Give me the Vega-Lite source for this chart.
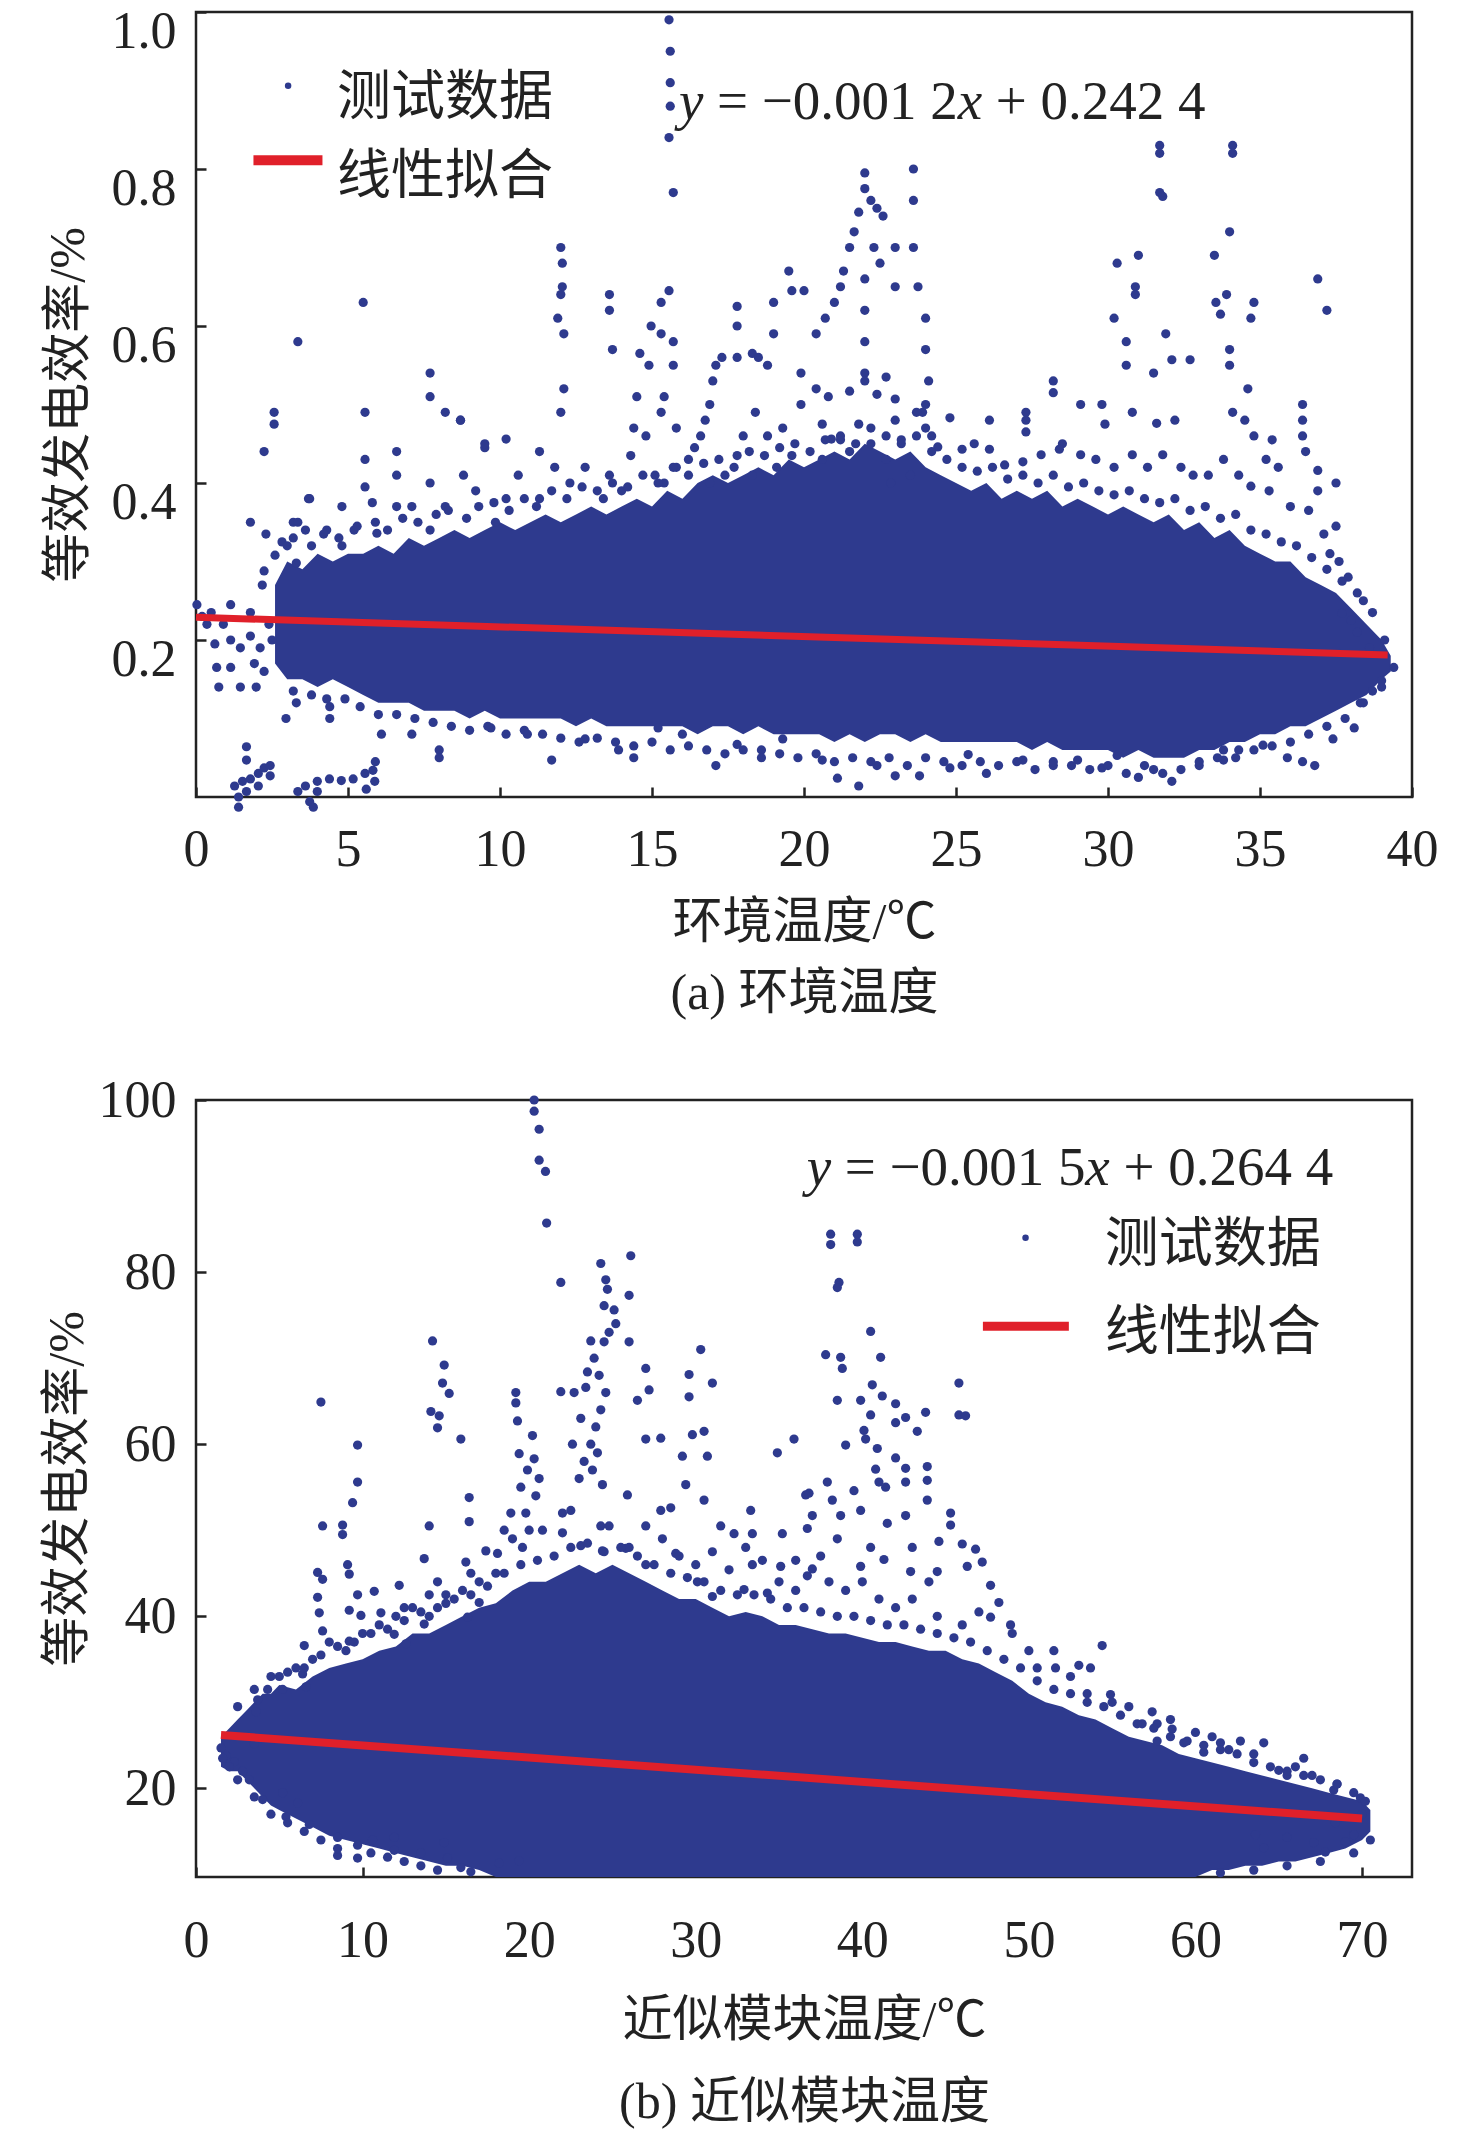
{
  "$schema": "https://vega.github.io/schema/vega-lite/v6.json",
  "background": "white",
  "padding": {"left": 40, "top": 3, "right": 10, "bottom": 0},
  "spacing": 52,
  "config": {
    "view": {"stroke": "#222", "strokeWidth": 2.5},
    "axis": {
      "grid": false, "domain": false,
      "tickSize": -10, "tickWidth": 2.5, "tickColor": "#222",
      "labelFont": "Liberation Serif", "labelFontSize": 52, "labelColor": "#222",
      "labelFlush": false, "labelOverlap": false,
      "titleFont": "Liberation Serif, Noto Sans CJK SC", "titleFontSize": 50,
      "titleFontWeight": "normal", "titleColor": "#222"
    },
    "text": {"font": "Liberation Serif, Noto Sans CJK SC", "fontSize": 55, "color": "#222", "baseline": "middle", "align": "left"}
  },
  "vconcat": [
    {
      "width": 1216,
      "height": 785,
      "layer": [
        {
          "data": {"values": [
            {"x":2.6,"y":0.17,"y2":0.27},{"x":3.0,"y":0.15,"y2":0.3},{"x":3.5,"y":0.15,"y2":0.29},{"x":4.0,"y":0.14,"y2":0.31},{"x":4.5,"y":0.15,"y2":0.3},{"x":5.0,"y":0.14,"y2":0.31},{"x":5.5,"y":0.13,"y2":0.31},{"x":6.0,"y":0.12,"y2":0.32},{"x":6.5,"y":0.12,"y2":0.31},{"x":7.0,"y":0.12,"y2":0.33},{"x":7.5,"y":0.11,"y2":0.32},{"x":8.0,"y":0.11,"y2":0.33},{"x":8.5,"y":0.11,"y2":0.34},{"x":9.0,"y":0.1,"y2":0.33},{"x":9.5,"y":0.11,"y2":0.34},{"x":10.0,"y":0.1,"y2":0.35},{"x":10.5,"y":0.1,"y2":0.34},{"x":11.0,"y":0.1,"y2":0.35},{"x":11.5,"y":0.1,"y2":0.36},{"x":12.0,"y":0.1,"y2":0.35},{"x":12.5,"y":0.09,"y2":0.36},{"x":13.0,"y":0.1,"y2":0.37},{"x":13.5,"y":0.09,"y2":0.36},{"x":14.0,"y":0.09,"y2":0.37},{"x":14.5,"y":0.09,"y2":0.38},{"x":15.0,"y":0.09,"y2":0.37},{"x":15.5,"y":0.09,"y2":0.39},{"x":16.0,"y":0.09,"y2":0.38},{"x":16.5,"y":0.08,"y2":0.4},{"x":17.0,"y":0.09,"y2":0.41},{"x":17.5,"y":0.09,"y2":0.4},{"x":18.0,"y":0.08,"y2":0.41},{"x":18.5,"y":0.09,"y2":0.42},{"x":19.0,"y":0.08,"y2":0.41},{"x":19.5,"y":0.08,"y2":0.43},{"x":20.0,"y":0.08,"y2":0.42},{"x":20.5,"y":0.08,"y2":0.43},{"x":21.0,"y":0.07,"y2":0.44},{"x":21.5,"y":0.08,"y2":0.43},{"x":22.0,"y":0.07,"y2":0.45},{"x":22.5,"y":0.08,"y2":0.44},{"x":23.0,"y":0.08,"y2":0.43},{"x":23.5,"y":0.07,"y2":0.44},{"x":24.0,"y":0.08,"y2":0.42},{"x":24.5,"y":0.07,"y2":0.41},{"x":25.0,"y":0.07,"y2":0.4},{"x":25.5,"y":0.07,"y2":0.39},{"x":26.0,"y":0.07,"y2":0.4},{"x":26.5,"y":0.07,"y2":0.38},{"x":27.0,"y":0.07,"y2":0.39},{"x":27.5,"y":0.06,"y2":0.38},{"x":28.0,"y":0.07,"y2":0.39},{"x":28.5,"y":0.06,"y2":0.37},{"x":29.0,"y":0.06,"y2":0.38},{"x":29.5,"y":0.06,"y2":0.37},{"x":30.0,"y":0.06,"y2":0.36},{"x":30.5,"y":0.05,"y2":0.37},{"x":31.0,"y":0.06,"y2":0.36},{"x":31.5,"y":0.05,"y2":0.35},{"x":32.0,"y":0.05,"y2":0.36},{"x":32.5,"y":0.05,"y2":0.34},{"x":33.0,"y":0.06,"y2":0.35},{"x":33.5,"y":0.06,"y2":0.33},{"x":34.0,"y":0.07,"y2":0.34},{"x":34.5,"y":0.07,"y2":0.32},{"x":35.0,"y":0.08,"y2":0.31},{"x":35.5,"y":0.08,"y2":0.3},{"x":36.0,"y":0.09,"y2":0.3},{"x":36.5,"y":0.09,"y2":0.28},{"x":37.0,"y":0.1,"y2":0.27},{"x":37.5,"y":0.11,"y2":0.26},{"x":38.0,"y":0.12,"y2":0.24},{"x":38.5,"y":0.13,"y2":0.22},{"x":39.0,"y":0.15,"y2":0.2},{"x":39.3,"y":0.16,"y2":0.18}
          ]},
          "mark": {"type": "area", "color": "#2e3a8e", "opacity": 1},
          "encoding": {
            "x": {"field": "x", "type": "quantitative", "scale": {"domain": [0, 40], "nice": false},
              "axis": {"title": ["环境温度/℃", "(a) 环境温度"], "values": [0,5,10,15,20,25,30,35,40], "format": "d",
                "labelPadding": 37, "titlePadding": 22, "titleLineHeight": 71}},
            "y": {"field": "y", "type": "quantitative", "scale": {"domain": [0, 1], "nice": false},
              "axis": {"title": "等效发电效率/%", "values": [0.2,0.4,0.6,0.8,1.0], "format": ".1f",
                "labelPadding": 30, "labelOffset": 19, "titlePadding": 18}},
            "y2": {"field": "y2"}
          }
        },
        {
          "data": {"values": [
            {"x":0.03,"y":0.245},{"x":0.36,"y":0.22},{"x":0.62,"y":0.195},{"x":0.68,"y":0.165},{"x":0.75,"y":0.14},{"x":1.14,"y":0.245},{"x":1.14,"y":0.2},{"x":1.46,"y":0.19},{"x":1.79,"y":0.235},{"x":1.79,"y":0.205},{"x":1.92,"y":0.17},{"x":1.98,"y":0.14},{"x":1.46,"y":0.14},{"x":1.14,"y":0.165},{"x":2.11,"y":0.19},{"x":2.24,"y":0.16},{"x":2.18,"y":0.27},{"x":2.24,"y":0.288},{"x":1.79,"y":0.35},{"x":2.3,"y":0.335},{"x":2.83,"y":0.325},{"x":3.2,"y":0.35},{"x":3.6,"y":0.34},{"x":3.74,"y":0.38},{"x":3.3,"y":0.298},{"x":0.2,"y":0.23},{"x":0.5,"y":0.235},{"x":0.9,"y":0.22},{"x":2.4,"y":0.22},{"x":2.5,"y":0.2},
            {"x":1.27,"y":0.014},{"x":1.53,"y":0.02},{"x":1.79,"y":0.023},{"x":2.05,"y":0.03},{"x":2.24,"y":0.037},{"x":2.44,"y":0.04},{"x":1.66,"y":0.007},{"x":1.4,"y":0.0},{"x":2.44,"y":0.027},{"x":2.05,"y":0.014},{"x":1.66,"y":0.064},{"x":1.66,"y":0.047},{"x":1.4,"y":-0.013},
            {"x":3.35,"y":0.007},{"x":3.6,"y":0.014},{"x":3.99,"y":0.02},{"x":4.39,"y":0.023},{"x":4.78,"y":0.021},{"x":5.17,"y":0.023},{"x":5.56,"y":0.03},{"x":5.82,"y":0.034},{"x":5.88,"y":0.02},{"x":3.74,"y":-0.006},{"x":3.99,"y":0.007},{"x":3.86,"y":-0.013},{"x":5.9,"y":0.045},{"x":5.6,"y":0.01},
            {"x":15.56,"y":0.99},{"x":15.6,"y":0.95},{"x":15.6,"y":0.91},{"x":15.6,"y":0.88},{"x":15.56,"y":0.84},{"x":15.7,"y":0.77},
            {"x":12.0,"y":0.7},{"x":12.05,"y":0.68},{"x":12.05,"y":0.65},{"x":12.0,"y":0.64},{"x":11.9,"y":0.61},{"x":12.1,"y":0.59},
            {"x":5.5,"y":0.63},{"x":3.35,"y":0.58},{"x":5.56,"y":0.49},{"x":2.57,"y":0.49},{"x":2.57,"y":0.475},{"x":2.24,"y":0.44},
            {"x":13.6,"y":0.64},{"x":13.6,"y":0.62},{"x":13.7,"y":0.57},{"x":15.3,"y":0.63},{"x":15.56,"y":0.645},{"x":14.97,"y":0.6},{"x":15.3,"y":0.59},{"x":15.7,"y":0.58},{"x":14.6,"y":0.565},{"x":14.9,"y":0.55},{"x":15.7,"y":0.55},
            {"x":17.8,"y":0.625},{"x":17.8,"y":0.6},{"x":19.5,"y":0.67},{"x":19.6,"y":0.645},{"x":19.0,"y":0.63},{"x":19.0,"y":0.59},{"x":19.9,"y":0.54},
            {"x":7.7,"y":0.54},{"x":7.7,"y":0.51},{"x":8.2,"y":0.49},{"x":8.7,"y":0.48},{"x":12.1,"y":0.52},{"x":12.0,"y":0.49},{"x":10.2,"y":0.456},{"x":9.5,"y":0.445},
            {"x":15.4,"y":0.4},{"x":15.8,"y":0.42},{"x":16.2,"y":0.43},{"x":16.6,"y":0.46},{"x":16.9,"y":0.5},{"x":17.0,"y":0.53},{"x":17.1,"y":0.55},{"x":17.3,"y":0.56},{"x":17.8,"y":0.56},{"x":18.3,"y":0.565},{"x":18.5,"y":0.56},{"x":18.8,"y":0.55},{"x":16.4,"y":0.445},{"x":16.75,"y":0.48},
            {"x":20.4,"y":0.59},{"x":21.0,"y":0.63},{"x":21.2,"y":0.65},{"x":21.5,"y":0.7},{"x":21.8,"y":0.745},{"x":22.0,"y":0.775},{"x":22.0,"y":0.795},{"x":22.2,"y":0.76},{"x":22.4,"y":0.75},{"x":22.6,"y":0.74},{"x":22.0,"y":0.66},{"x":22.0,"y":0.62},{"x":22.0,"y":0.58},{"x":22.0,"y":0.54},{"x":20.0,"y":0.645},{"x":21.3,"y":0.67},{"x":21.65,"y":0.72},{"x":20.7,"y":0.61},{"x":22.3,"y":0.7},{"x":22.5,"y":0.68},
            {"x":23.6,"y":0.8},{"x":23.6,"y":0.76},{"x":23.6,"y":0.7},{"x":23.0,"y":0.7},{"x":23.0,"y":0.65},{"x":23.75,"y":0.65},{"x":24.0,"y":0.61},{"x":24.0,"y":0.57},{"x":24.1,"y":0.53},{"x":23.9,"y":0.49},{"x":24.2,"y":0.46},
            {"x":31.7,"y":0.83},{"x":31.7,"y":0.82},{"x":31.7,"y":0.77},{"x":31.8,"y":0.765},{"x":34.1,"y":0.83},{"x":34.1,"y":0.82},{"x":34.0,"y":0.72},{"x":33.5,"y":0.69},{"x":31.0,"y":0.69},{"x":30.3,"y":0.68},{"x":30.2,"y":0.61},{"x":36.9,"y":0.66},{"x":37.2,"y":0.62},{"x":34.8,"y":0.63},{"x":34.7,"y":0.61},{"x":36.4,"y":0.5},{"x":28.2,"y":0.53},{"x":26.1,"y":0.48},{"x":27.3,"y":0.48},{"x":34.6,"y":0.52},{"x":37.5,"y":0.4},{"x":37.5,"y":0.345},
            {"x":33.55,"y":0.63},{"x":33.7,"y":0.615},{"x":33.9,"y":0.64},{"x":30.9,"y":0.65},{"x":30.9,"y":0.64},{"x":31.9,"y":0.59},{"x":30.6,"y":0.58},{"x":30.6,"y":0.55},{"x":31.5,"y":0.54},{"x":32.1,"y":0.557},{"x":32.7,"y":0.557},{"x":34.0,"y":0.57},{"x":34.0,"y":0.55},{"x":34.1,"y":0.49},{"x":34.5,"y":0.48},{"x":34.8,"y":0.46},{"x":35.4,"y":0.455},{"x":35.2,"y":0.43},{"x":35.6,"y":0.42},{"x":36.4,"y":0.48},{"x":36.4,"y":0.46},{"x":36.5,"y":0.44},{"x":36.9,"y":0.416},{"x":36.9,"y":0.39},
            {"x":28.2,"y":0.515},{"x":27.3,"y":0.49},{"x":27.3,"y":0.465},{"x":29.1,"y":0.5},{"x":28.5,"y":0.45},{"x":29.8,"y":0.5},{"x":29.9,"y":0.475},{"x":30.8,"y":0.49},{"x":31.6,"y":0.476},{"x":32.2,"y":0.48},
            {"x":21.5,"y":0.517},{"x":22.4,"y":0.513},{"x":23.0,"y":0.507},{"x":23.0,"y":0.48},{"x":23.7,"y":0.49},{"x":24.0,"y":0.5},{"x":24.0,"y":0.47},{"x":20.9,"y":0.456},{"x":21.5,"y":0.44},{"x":22.2,"y":0.45},{"x":24.4,"y":0.446},{"x":25.2,"y":0.443},{"x":24.8,"y":0.483},{"x":25.6,"y":0.45},{"x":26.1,"y":0.443},{"x":26.6,"y":0.423},{"x":27.2,"y":0.427},{"x":27.8,"y":0.436},{"x":28.4,"y":0.443},{"x":29.1,"y":0.436},{"x":29.6,"y":0.43},{"x":30.2,"y":0.42},{"x":30.8,"y":0.436},{"x":31.3,"y":0.42},{"x":31.8,"y":0.436},{"x":32.4,"y":0.42},{"x":32.8,"y":0.41},{"x":33.3,"y":0.41},{"x":33.8,"y":0.43},{"x":34.3,"y":0.41},{"x":34.7,"y":0.396},{"x":35.3,"y":0.39},{"x":36.0,"y":0.37},{"x":36.6,"y":0.365},{"x":37.1,"y":0.335},{"x":37.3,"y":0.31},{"x":37.7,"y":0.234},{"x":38.0,"y":0.225},{"x":38.2,"y":0.21},{"x":38.6,"y":0.19},{"x":39.0,"y":0.148},{"x":38.7,"y":0.135},{"x":38.3,"y":0.12},{"x":38.1,"y":0.088},{"x":37.4,"y":0.074},{"x":36.8,"y":0.04},{"x":36.4,"y":0.045},{"x":35.9,"y":0.05},{"x":37.9,"y":0.28},{"x":37.6,"y":0.3},{"x":38.4,"y":0.25},{"x":39.1,"y":0.2},{"x":39.4,"y":0.165},
            {"x":21.1,"y":0.024},{"x":21.8,"y":0.014},{"x":23.0,"y":0.027},{"x":26.0,"y":0.03},{"x":32.1,"y":0.02},{"x":31.0,"y":0.025},{"x":33.0,"y":0.04},{"x":23.8,"y":0.027},{"x":24.8,"y":0.037},{"x":27.2,"y":0.047},{"x":28.2,"y":0.04},{"x":29.0,"y":0.047},{"x":29.8,"y":0.037},{"x":30.3,"y":0.053},{"x":31.5,"y":0.035},{"x":33.8,"y":0.047},{"x":34.3,"y":0.06},{"x":35.1,"y":0.066},{"x":20.6,"y":0.047},{"x":22.4,"y":0.04},{"x":25.4,"y":0.054},{"x":33.8,"y":0.06},
            {"x":13.9,"y":0.06},{"x":11.7,"y":0.047},{"x":14.4,"y":0.05},{"x":17.1,"y":0.04},{"x":16.0,"y":0.08},{"x":8.0,"y":0.06},{"x":8.0,"y":0.05},{"x":6.1,"y":0.08},{"x":4.4,"y":0.115},{"x":4.4,"y":0.1},{"x":2.96,"y":0.1},{"x":3.3,"y":0.12},{"x":17.8,"y":0.067},{"x":18.6,"y":0.06},{"x":19.3,"y":0.074},{"x":15.2,"y":0.088},{"x":12.8,"y":0.074},{"x":10.9,"y":0.08},{"x":9.7,"y":0.088},{"x":7.1,"y":0.08},
            {"x":2.6,"y":0.308},{"x":3.0,"y":0.32},{"x":3.35,"y":0.35},{"x":3.7,"y":0.38},{"x":4.3,"y":0.34},{"x":4.8,"y":0.32},{"x":4.8,"y":0.37},{"x":5.2,"y":0.34},{"x":5.56,"y":0.43},{"x":5.56,"y":0.395},{"x":5.8,"y":0.375},{"x":5.95,"y":0.336},{"x":6.6,"y":0.44},{"x":6.6,"y":0.41},{"x":6.6,"y":0.37},{"x":7.1,"y":0.37},{"x":7.7,"y":0.4},{"x":7.7,"y":0.34},{"x":8.2,"y":0.37},{"x":8.7,"y":0.48},{"x":8.8,"y":0.41},{"x":9.2,"y":0.39},{"x":9.5,"y":0.45},{"x":9.85,"y":0.35},{"x":10.2,"y":0.38},{"x":10.6,"y":0.41},{"x":11.3,"y":0.44},{"x":11.3,"y":0.38},{"x":11.8,"y":0.42},{"x":12.3,"y":0.4},{"x":12.8,"y":0.42},{"x":13.4,"y":0.38},{"x":13.6,"y":0.41},{"x":14.0,"y":0.39},{"x":14.3,"y":0.435},{"x":14.4,"y":0.47},{"x":14.8,"y":0.46},{"x":15.1,"y":0.41},{"x":15.3,"y":0.49},{"x":15.4,"y":0.51},{"x":15.8,"y":0.47},{"x":14.5,"y":0.51},{"x":16.9,"y":0.4},{"x":17.4,"y":0.41},{"x":17.8,"y":0.435},{"x":18.0,"y":0.46},{"x":18.4,"y":0.49},{"x":18.8,"y":0.46},{"x":19.3,"y":0.47},{"x":19.6,"y":0.435},{"x":19.9,"y":0.5},{"x":18.3,"y":0.41},{"x":19.1,"y":0.42},
            {"x":20.6,"y":0.475},{"x":20.6,"y":0.43},{"x":21.2,"y":0.455},{"x":21.8,"y":0.475},{"x":22.7,"y":0.43},{"x":23.2,"y":0.45},{"x":23.5,"y":0.41},{"x":22.85,"y":0.4},{"x":20.4,"y":0.52},{"x":20.8,"y":0.51},{"x":22.0,"y":0.53},{"x":22.7,"y":0.535},
            {"x":3.2,"y":0.33},{"x":3.8,"y":0.32},{"x":4.2,"y":0.335},{"x":4.7,"y":0.33},{"x":5.3,"y":0.345},{"x":5.9,"y":0.35},{"x":6.3,"y":0.34},{"x":6.8,"y":0.355},{"x":7.3,"y":0.35},{"x":7.9,"y":0.36},{"x":8.3,"y":0.365},{"x":8.9,"y":0.355},{"x":9.3,"y":0.37},{"x":9.8,"y":0.375},{"x":10.3,"y":0.365},{"x":10.8,"y":0.38},{"x":11.2,"y":0.37},{"x":11.7,"y":0.39},{"x":12.2,"y":0.38},{"x":12.7,"y":0.395},{"x":13.2,"y":0.39},{"x":13.7,"y":0.4},{"x":14.2,"y":0.395},{"x":14.7,"y":0.41},{"x":15.2,"y":0.4},{"x":15.7,"y":0.42},{"x":16.2,"y":0.41},{"x":16.7,"y":0.425},{"x":17.2,"y":0.43},{"x":17.7,"y":0.42},{"x":18.2,"y":0.44},{"x":18.7,"y":0.435},{"x":19.2,"y":0.445},{"x":19.7,"y":0.45},{"x":20.2,"y":0.44},{"x":20.7,"y":0.455},{"x":21.2,"y":0.46},{"x":21.7,"y":0.45},{"x":22.2,"y":0.47},{"x":22.7,"y":0.46},{"x":23.2,"y":0.455},{"x":23.7,"y":0.46},{"x":24.2,"y":0.44},{"x":24.7,"y":0.43},{"x":25.2,"y":0.42},{"x":25.7,"y":0.415},{"x":26.2,"y":0.42},{"x":26.7,"y":0.405},{"x":27.2,"y":0.41},{"x":27.7,"y":0.4},{"x":28.2,"y":0.41},{"x":28.7,"y":0.395},{"x":29.2,"y":0.4},{"x":29.7,"y":0.39},{"x":30.2,"y":0.385},{"x":30.7,"y":0.39},{"x":31.2,"y":0.38},{"x":31.7,"y":0.375},{"x":32.2,"y":0.38},{"x":32.7,"y":0.365},{"x":33.2,"y":0.37},{"x":33.7,"y":0.355},{"x":34.2,"y":0.36},{"x":34.7,"y":0.34},{"x":35.2,"y":0.335},{"x":35.7,"y":0.325},{"x":36.2,"y":0.32},{"x":36.7,"y":0.305},{"x":37.2,"y":0.29},{"x":37.7,"y":0.275},{"x":38.2,"y":0.26},{"x":38.7,"y":0.235},
            {"x":3.2,"y":0.135},{"x":3.8,"y":0.13},{"x":4.3,"y":0.125},{"x":4.9,"y":0.125},{"x":5.4,"y":0.115},{"x":6.0,"y":0.105},{"x":6.6,"y":0.105},{"x":7.2,"y":0.1},{"x":7.8,"y":0.095},{"x":8.4,"y":0.09},{"x":9.0,"y":0.085},{"x":9.6,"y":0.09},{"x":10.2,"y":0.08},{"x":10.8,"y":0.085},{"x":11.4,"y":0.08},{"x":12.0,"y":0.075},{"x":12.6,"y":0.07},{"x":13.2,"y":0.075},{"x":13.8,"y":0.07},{"x":14.4,"y":0.065},{"x":15.0,"y":0.07},{"x":15.6,"y":0.06},{"x":16.2,"y":0.065},{"x":16.8,"y":0.06},{"x":17.4,"y":0.055},{"x":18.0,"y":0.06},{"x":18.6,"y":0.05},{"x":19.2,"y":0.055},{"x":19.8,"y":0.05},{"x":20.4,"y":0.055},{"x":21.0,"y":0.045},{"x":21.6,"y":0.05},{"x":22.2,"y":0.045},{"x":22.8,"y":0.05},{"x":23.4,"y":0.04},{"x":24.0,"y":0.05},{"x":24.6,"y":0.045},{"x":25.2,"y":0.04},{"x":25.8,"y":0.045},{"x":26.4,"y":0.04},{"x":27.0,"y":0.045},{"x":27.6,"y":0.035},{"x":28.2,"y":0.045},{"x":28.8,"y":0.04},{"x":29.4,"y":0.035},{"x":30.0,"y":0.04},{"x":30.6,"y":0.03},{"x":31.2,"y":0.04},{"x":31.8,"y":0.03},{"x":32.4,"y":0.035},{"x":33.0,"y":0.045},{"x":33.6,"y":0.05},{"x":34.2,"y":0.05},{"x":34.8,"y":0.06},{"x":35.4,"y":0.065},{"x":36.0,"y":0.07},{"x":36.6,"y":0.08},{"x":37.2,"y":0.09},{"x":37.8,"y":0.1},{"x":38.4,"y":0.12},{"x":39.0,"y":0.14}
          ]},
          "mark": {"type": "circle", "color": "#2e3a8e", "size": 85, "opacity": 1},
          "encoding": {
            "x": {"field": "x", "type": "quantitative"},
            "y": {"field": "y", "type": "quantitative"}
          }
        },
        {
          "data": {"values": [{"x": 0, "y": 0.229}, {"x": 39.2, "y": 0.181}]},
          "mark": {"type": "line", "color": "#e0202a", "strokeWidth": 7},
          "encoding": {
            "x": {"field": "x", "type": "quantitative"},
            "y": {"field": "y", "type": "quantitative"}
          }
        },
        {
          "data": {"values": [{}]},
          "mark": {"type": "circle", "color": "#2e3a8e", "size": 42, "opacity": 1},
          "encoding": {"x": {"datum": 3.03}, "y": {"datum": 0.906}}
        },
        {
          "data": {"values": [{}]},
          "mark": {"type": "rule", "color": "#e0202a", "strokeWidth": 10},
          "encoding": {"x": {"datum": 1.89}, "x2": {"datum": 4.16}, "y": {"datum": 0.811}}
        },
        {
          "data": {"values": [{}]},
          "mark": {"type": "text", "text": "测试数据", "fontSize": 54},
          "encoding": {"x": {"datum": 4.64}, "y": {"datum": 0.889}}
        },
        {
          "data": {"values": [{}]},
          "mark": {"type": "text", "text": "线性拟合", "fontSize": 54},
          "encoding": {"x": {"datum": 4.64}, "y": {"datum": 0.788}}
        },
        {
          "data": {"values": [{}]},
          "mark": {"type": "text", "text": "y", "fontStyle": "italic"},
          "encoding": {"x": {"datum": 15.89}, "y": {"datum": 0.885}}
        },
        {
          "data": {"values": [{}]},
          "mark": {"type": "text", "text": "=\u00a0−0.001\u00a02"},
          "encoding": {"x": {"datum": 17.14}, "y": {"datum": 0.885}}
        },
        {
          "data": {"values": [{}]},
          "mark": {"type": "text", "text": "x", "fontStyle": "italic"},
          "encoding": {"x": {"datum": 25.06}, "y": {"datum": 0.885}}
        },
        {
          "data": {"values": [{}]},
          "mark": {"type": "text", "text": "+\u00a00.242\u00a04"},
          "encoding": {"x": {"datum": 26.31}, "y": {"datum": 0.885}}
        }
      ]
    },
    {
      "width": 1216,
      "height": 777,
      "layer": [
        {
          "data": {"values": [
            {"x":1.5,"y":22.5,"y2":26},{"x":2.0,"y":22,"y2":27},{"x":2.5,"y":22,"y2":28},{"x":3.0,"y":21,"y2":29},{"x":3.5,"y":20,"y2":30},{"x":4.0,"y":19,"y2":31},{"x":4.5,"y":18,"y2":31},{"x":5.0,"y":17.5,"y2":32},{"x":6.0,"y":16.5,"y2":31.5},{"x":7.0,"y":15.5,"y2":33},{"x":8.0,"y":14.5,"y2":34},{"x":9.0,"y":14,"y2":34.5},{"x":10.0,"y":13.5,"y2":35},{"x":11.0,"y":13,"y2":36},{"x":12.0,"y":12.5,"y2":36.5},{"x":13.0,"y":12,"y2":38},{"x":14.0,"y":11.5,"y2":38},{"x":15.0,"y":11,"y2":39},{"x":16.0,"y":11,"y2":40},{"x":17.0,"y":10.5,"y2":41},{"x":18.0,"y":9.7,"y2":41.5},{"x":19.0,"y":9.7,"y2":43},{"x":20.0,"y":9.7,"y2":44},{"x":21.0,"y":9.7,"y2":44},{"x":22.0,"y":9.7,"y2":45},{"x":23.0,"y":9.7,"y2":46},{"x":24.0,"y":9.7,"y2":45},{"x":25.0,"y":9.7,"y2":46},{"x":26.0,"y":9.7,"y2":45},{"x":27.0,"y":9.7,"y2":44},{"x":28.0,"y":9.7,"y2":43},{"x":29.0,"y":9.7,"y2":42},{"x":30.0,"y":9.7,"y2":42},{"x":31.0,"y":9.7,"y2":41},{"x":32.0,"y":9.7,"y2":40},{"x":33.0,"y":9.7,"y2":40.5},{"x":34.0,"y":9.7,"y2":40},{"x":35.0,"y":9.7,"y2":39},{"x":36.0,"y":9.7,"y2":39},{"x":37.0,"y":9.7,"y2":38.5},{"x":38.0,"y":9.7,"y2":38},{"x":39.0,"y":9.7,"y2":38},{"x":40.0,"y":9.7,"y2":37.5},{"x":41.0,"y":9.7,"y2":37},{"x":42.0,"y":9.7,"y2":37},{"x":43.0,"y":9.7,"y2":36.5},{"x":44.0,"y":9.7,"y2":36},{"x":45.0,"y":9.7,"y2":36},{"x":46.0,"y":9.7,"y2":35},{"x":47.0,"y":9.7,"y2":34.5},{"x":48.0,"y":9.7,"y2":33.5},{"x":49.0,"y":9.7,"y2":32.5},{"x":50.0,"y":9.7,"y2":31},{"x":51.0,"y":9.7,"y2":30},{"x":52.0,"y":9.7,"y2":29.5},{"x":53.0,"y":9.7,"y2":28.5},{"x":54.0,"y":9.7,"y2":28},{"x":55.0,"y":9.7,"y2":27},{"x":56.0,"y":9.7,"y2":26},{"x":57.0,"y":9.7,"y2":25.5},{"x":58.0,"y":9.7,"y2":25},{"x":59.0,"y":9.7,"y2":24},{"x":60.0,"y":9.7,"y2":23.5},{"x":61.0,"y":10.5,"y2":23},{"x":62.0,"y":10.5,"y2":22.5},{"x":63.0,"y":11,"y2":22},{"x":64.0,"y":11,"y2":21.5},{"x":65.0,"y":11.5,"y2":21},{"x":66.0,"y":11.5,"y2":20.5},{"x":67.0,"y":12,"y2":20},{"x":68.0,"y":12.5,"y2":19.5},{"x":69.0,"y":13,"y2":19},{"x":70.0,"y":14,"y2":18.5},{"x":70.5,"y":15,"y2":17.5}
          ]},
          "mark": {"type": "area", "color": "#2e3a8e", "opacity": 1},
          "encoding": {
            "x": {"field": "x", "type": "quantitative", "scale": {"domain": [0, 73], "nice": false},
              "axis": {"title": ["近似模块温度/℃", "(b) 近似模块温度"], "values": [0,10,20,30,40,50,60,70], "format": "d",
                "labelPadding": 48, "titlePadding": 29, "titleLineHeight": 82}},
            "y": {"field": "y", "type": "quantitative", "scale": {"domain": [9.7, 100], "nice": false},
              "axis": {"title": "等效发电效率/%", "values": [20,40,60,80,100], "format": "d",
                "labelPadding": 30, "titlePadding": 6}},
            "y2": {"field": "y2"}
          }
        },
        {
          "data": {"values": [
            {"x":20.3,"y":100},{"x":20.3,"y":98.7},{"x":20.6,"y":96.6},{"x":20.6,"y":93.0},{"x":20.98,"y":91.7},{"x":21.05,"y":85.7},{"x":24.3,"y":81.0},{"x":26.1,"y":81.9},{"x":21.9,"y":78.8},{"x":24.6,"y":79.1},{"x":24.5,"y":76.1},{"x":25.1,"y":75.6},{"x":26.0,"y":77.3},{"x":24.5,"y":71.9},{"x":26.0,"y":71.9},{"x":23.7,"y":72},{"x":23.5,"y":68.4},{"x":23.4,"y":66.6},{"x":27.0,"y":68.8},{"x":27.2,"y":66.3},{"x":26.5,"y":65.1},{"x":30.3,"y":71},{"x":29.6,"y":68.1},{"x":29.6,"y":65.5},{"x":31.0,"y":67.1},{"x":30.5,"y":61.5},{"x":21.9,"y":66.1},{"x":22.7,"y":66},{"x":23.1,"y":63},{"x":22.6,"y":60},{"x":27.0,"y":60.6},{"x":27.9,"y":60.7},{"x":29.8,"y":61.1},{"x":30.7,"y":58.6},
            {"x":14.2,"y":72},{"x":14.9,"y":69.2},{"x":14.8,"y":67.1},{"x":15.2,"y":65.9},{"x":14.1,"y":63.8},{"x":14.6,"y":63.3},{"x":14.5,"y":61.9},{"x":15.9,"y":60.6},{"x":7.5,"y":64.9},{"x":9.7,"y":59.9},{"x":9.7,"y":55.6},{"x":9.4,"y":53.2},{"x":7.6,"y":50.5},{"x":8.8,"y":50.6},{"x":8.8,"y":49.5},{"x":14.0,"y":50.5},{"x":16.4,"y":53.8},{"x":16.4,"y":51},{"x":19.2,"y":66},{"x":19.2,"y":64.8},{"x":19.3,"y":62.7},{"x":19.4,"y":58.9},{"x":20.3,"y":58.3},
            {"x":35.9,"y":60.6},{"x":34.9,"y":59},{"x":33.3,"y":52.3},{"x":27.9,"y":52.3},{"x":28.5,"y":52.6},{"x":25.9,"y":54.1},{"x":24.4,"y":55.3},{"x":22.5,"y":52.3},{"x":24.3,"y":50.5},{"x":27.0,"y":50.5},{"x":29.2,"y":58.6},{"x":29.4,"y":55.3},{"x":30.5,"y":53.5},{"x":31.5,"y":50.5},{"x":32.3,"y":49.6},{"x":33.4,"y":49.6},{"x":35.2,"y":49.6},{"x":36.6,"y":54.1},{"x":36.7,"y":50.2},{"x":35.1,"y":45.8},{"x":33.4,"y":46},{"x":32.0,"y":45.4},{"x":36.0,"y":46.5},{"x":32.9,"y":43.1},{"x":34.3,"y":42.7},{"x":36.7,"y":44.7},{"x":30.1,"y":44},{"x":31.0,"y":42.3},{"x":28.8,"y":47.3},{"x":25.8,"y":47.9},{"x":24.8,"y":50.5},{"x":24.4,"y":47.6},{"x":22.0,"y":52.0},{"x":22.0,"y":49.7},{"x":23.1,"y":48.2},{"x":18.1,"y":47.3},{"x":17.4,"y":47.6},{"x":16.2,"y":46.3},{"x":13.7,"y":46.7},
            {"x":7.3,"y":45.1},{"x":7.6,"y":44.3},{"x":9.1,"y":46},{"x":9.2,"y":44.9},{"x":9.7,"y":42.5},{"x":10.7,"y":42.9},{"x":12.2,"y":43.6},{"x":7.3,"y":42.2},{"x":7.4,"y":40.4},{"x":9.2,"y":40.7},{"x":9.9,"y":40.1},{"x":11.1,"y":40.4},{"x":6.5,"y":36.6},{"x":6.6,"y":31.8},{"x":6.4,"y":33.3},{"x":7.6,"y":38.3},{"x":9.2,"y":37.1},{"x":11.9,"y":37.9},{"x":12.6,"y":36.8},{"x":14.0,"y":42.5},{"x":15.0,"y":42.5},{"x":16.3,"y":39.9},{"x":17.0,"y":41.6},{"x":13.7,"y":39.1},
            {"x":19.5,"y":55},{"x":19.8,"y":52},{"x":20.0,"y":50},{"x":19.6,"y":48},{"x":20.4,"y":54},{"x":20.6,"y":56},{"x":20.2,"y":61},{"x":20.8,"y":50},{"x":19.9,"y":57},{"x":18.9,"y":52},{"x":19.0,"y":49},{"x":18.5,"y":50},
            {"x":23.0,"y":56},{"x":23.3,"y":58},{"x":23.7,"y":60},{"x":24.0,"y":62},{"x":24.3,"y":64},{"x":24.1,"y":59},{"x":23.8,"y":57},{"x":24.6,"y":66},{"x":24.2,"y":68},{"x":23.9,"y":70},{"x":24.8,"y":73},{"x":25.2,"y":74},{"x":24.7,"y":78},
            {"x":4.0,"y":18.7},{"x":5.2,"y":19.5},{"x":6.1,"y":18.3},{"x":5.4,"y":16.7},{"x":6.8,"y":15.8},{"x":8.5,"y":14.3},{"x":8.5,"y":12.2},{"x":9.7,"y":13.4},{"x":9.7,"y":11.9},{"x":10.6,"y":14},{"x":11.9,"y":12.8},{"x":13.5,"y":12.5},{"x":15.1,"y":11.9},{"x":15.9,"y":10.8},{"x":18.2,"y":11.3},{"x":19.4,"y":11.6},{"x":14.9,"y":13.7},{"x":11.9,"y":14.3},{"x":1.8,"y":23.8},{"x":1.5,"y":24.7},{"x":2.3,"y":23.1},{"x":3.5,"y":25.2},{"x":3.6,"y":28.9},{"x":4.3,"y":31.5},{"x":5.2,"y":31.5},{"x":3.7,"y":30.3},{"x":1.6,"y":23.5},{"x":2.0,"y":22.5},{"x":2.8,"y":22},{"x":3.2,"y":21},
            {"x":38.1,"y":84.4},{"x":38.1,"y":83.2},{"x":39.7,"y":84.4},{"x":39.7,"y":83.5},{"x":38.6,"y":78.8},{"x":38.5,"y":78.2},{"x":40.5,"y":73.1},{"x":37.8,"y":70.4},{"x":38.7,"y":70.1},{"x":38.8,"y":68.8},{"x":41.1,"y":70.1},{"x":40.6,"y":66.9},{"x":38.5,"y":65.1},{"x":39.9,"y":65.1},{"x":41.2,"y":65.6},{"x":42.0,"y":64.7},{"x":40.5,"y":63.4},{"x":42.6,"y":63.1},{"x":42.0,"y":62.5},{"x":43.8,"y":63.7},{"x":43.3,"y":61.5},{"x":45.8,"y":67.1},{"x":45.8,"y":63.4},{"x":46.2,"y":63.3},{"x":40.1,"y":61.6},{"x":39.0,"y":59.9},{"x":40.2,"y":60.6},{"x":40.9,"y":59.5},{"x":42.0,"y":58.4},{"x":40.8,"y":57.1},{"x":42.6,"y":57.2},{"x":43.9,"y":57.4},{"x":37.9,"y":55.6},{"x":39.5,"y":54.6},{"x":41.0,"y":55.6},{"x":41.4,"y":55},{"x":42.6,"y":55.6},{"x":43.9,"y":55.8},{"x":43.9,"y":53.5},{"x":36.8,"y":54.3},{"x":38.2,"y":53.5},{"x":38.7,"y":51.7},{"x":39.9,"y":52.3},{"x":41.5,"y":50.8},{"x":42.6,"y":51.7},{"x":45.3,"y":52},{"x":45.3,"y":50.6},{"x":37.0,"y":51.7},{"x":44.6,"y":48.7},{"x":46.0,"y":48.4},{"x":46.8,"y":47.8},{"x":46.3,"y":45.8},{"x":47.2,"y":46.3},{"x":44.5,"y":45.2},{"x":42.9,"y":45.2},{"x":41.3,"y":46.6},{"x":39.9,"y":45.8},{"x":37.5,"y":47},{"x":47.7,"y":43.6},{"x":48.2,"y":41.6},{"x":48.9,"y":39},{"x":47.7,"y":39.9},
            {"x":54.4,"y":36.6},{"x":53.0,"y":34.3},{"x":53.7,"y":34.0},{"x":51.6,"y":34},{"x":54.9,"y":30.9},{"x":57.4,"y":28.9},{"x":56.8,"y":27.5},{"x":57.7,"y":27.5},{"x":58.6,"y":26.9},{"x":57.7,"y":25.5},{"x":59.3,"y":25.3},{"x":61.5,"y":25.3},{"x":62.7,"y":25.5},{"x":64.1,"y":25.3},{"x":60.5,"y":24.2},{"x":65.0,"y":22.1},{"x":68.3,"y":19.8},{"x":69.9,"y":18.9},{"x":69.5,"y":14.6},{"x":67.1,"y":13.7},{"x":67.8,"y":12.6},{"x":65.5,"y":14.3},{"x":63.6,"y":14.6},{"x":64.1,"y":13.1},{"x":68.4,"y":16},{"x":70.2,"y":18.5},{"x":70.0,"y":17.0},{"x":69.0,"y":13.8},
            {"x":43,"y":42},{"x":44.5,"y":40},{"x":46,"y":39},{"x":47,"y":40.5},{"x":49,"y":38},{"x":50,"y":36},{"x":50.5,"y":34},{"x":51.5,"y":36},{"x":52.5,"y":33},{"x":53.5,"y":31},{"x":55,"y":30},{"x":56,"y":29.5},{"x":58.5,"y":28},{"x":60,"y":26.5},{"x":61,"y":26},{"x":62,"y":24.5},{"x":63.5,"y":24},{"x":66,"y":22.5},{"x":67,"y":21.5},{"x":68.5,"y":20.5},{"x":66.5,"y":23.5},{"x":65.5,"y":21.5},
            {"x":26,"y":48},{"x":27,"y":46},{"x":28,"y":49},{"x":29,"y":47},{"x":30,"y":46},{"x":31,"y":47.5},{"x":33,"y":48},{"x":34,"y":46.5},{"x":35,"y":44},{"x":36,"y":43},{"x":37,"y":45.5},{"x":38,"y":44},{"x":39,"y":43},{"x":40,"y":44},{"x":41,"y":42},{"x":42,"y":41},{"x":40.5,"y":48},{"x":38.5,"y":49},{"x":43,"y":48},{"x":44,"y":44},
            {"x":8,"y":37},{"x":9,"y":36},{"x":10,"y":38},{"x":11,"y":39},{"x":12,"y":40},{"x":13,"y":41},{"x":14,"y":40},{"x":15,"y":41.5},{"x":16,"y":43},{"x":17,"y":44},{"x":18,"y":45},{"x":6,"y":34},{"x":7,"y":35},{"x":5,"y":33},{"x":12.5,"y":41},{"x":14.5,"y":44},{"x":16.5,"y":45},
            {"x":2.5,"y":29.5},{"x":3.5,"y":31.5},{"x":4.5,"y":33},{"x":5.5,"y":33.5},{"x":6.5,"y":34},{"x":7.5,"y":35.5},{"x":8.5,"y":36.5},{"x":9.5,"y":37},{"x":10.5,"y":38},{"x":11.5,"y":38.5},{"x":12.5,"y":39.5},{"x":13.5,"y":40.5},{"x":14.5,"y":41},{"x":15.5,"y":42},{"x":16.5,"y":42.5},{"x":17.5,"y":43.5},{"x":18.5,"y":45},{"x":19.5,"y":46},{"x":20.5,"y":46.5},{"x":21.5,"y":47},{"x":22.5,"y":48},{"x":23.5,"y":48.5},{"x":24.5,"y":47.5},{"x":25.5,"y":48},{"x":26.5,"y":47},{"x":27.5,"y":46},{"x":28.5,"y":45},{"x":29.5,"y":44.5},{"x":30.5,"y":44},{"x":31.5,"y":43},{"x":32.5,"y":42.5},{"x":33.5,"y":42.5},{"x":34.5,"y":42},{"x":35.5,"y":41},{"x":36.5,"y":41},{"x":37.5,"y":40.5},{"x":38.5,"y":40},{"x":39.5,"y":40},{"x":40.5,"y":39.5},{"x":41.5,"y":39},{"x":42.5,"y":39},{"x":43.5,"y":38.5},{"x":44.5,"y":38},{"x":45.5,"y":37.5},{"x":46.5,"y":37},{"x":47.5,"y":36},{"x":48.5,"y":35},{"x":49.5,"y":34},{"x":50.5,"y":32.5},{"x":51.5,"y":31.5},{"x":52.5,"y":31},{"x":53.5,"y":30},{"x":54.5,"y":29.5},{"x":55.5,"y":28.5},{"x":56.5,"y":27.5},{"x":57.5,"y":27},{"x":58.5,"y":26},{"x":59.5,"y":25.5},{"x":60.5,"y":25},{"x":61.5,"y":24.5},{"x":62.5,"y":24},{"x":63.5,"y":23},{"x":64.5,"y":22.5},{"x":65.5,"y":22},{"x":66.5,"y":21.5},{"x":67.5,"y":21},{"x":68.5,"y":20.5},{"x":69.5,"y":19.5},
            {"x":2.5,"y":21},{"x":3.5,"y":19},{"x":4.5,"y":17},{"x":5.5,"y":16},{"x":6.5,"y":15},{"x":7.5,"y":14},{"x":8.5,"y":13},{"x":10.5,"y":12.5},{"x":11.5,"y":12},{"x":12.5,"y":11.5},{"x":13.5,"y":11},{"x":14.5,"y":10.5},{"x":16.5,"y":10.3},{"x":61.5,"y":10.2},{"x":63.5,"y":10.5},{"x":65.5,"y":11},{"x":67.5,"y":11.5},{"x":69.5,"y":12.5},{"x":70.5,"y":14}
          ]},
          "mark": {"type": "circle", "color": "#2e3a8e", "size": 85, "opacity": 1},
          "encoding": {
            "x": {"field": "x", "type": "quantitative"},
            "y": {"field": "y", "type": "quantitative"}
          }
        },
        {
          "data": {"values": [{"x": 1.5, "y": 26.2}, {"x": 70, "y": 16.5}]},
          "mark": {"type": "line", "color": "#e0202a", "strokeWidth": 8},
          "encoding": {
            "x": {"field": "x", "type": "quantitative"},
            "y": {"field": "y", "type": "quantitative"}
          }
        },
        {
          "data": {"values": [{}]},
          "mark": {"type": "circle", "color": "#2e3a8e", "size": 42, "opacity": 1},
          "encoding": {"x": {"datum": 49.8}, "y": {"datum": 84.0}}
        },
        {
          "data": {"values": [{}]},
          "mark": {"type": "rule", "color": "#e0202a", "strokeWidth": 9},
          "encoding": {"x": {"datum": 47.24}, "x2": {"datum": 52.4}, "y": {"datum": 73.7}}
        },
        {
          "data": {"values": [{}]},
          "mark": {"type": "text", "text": "测试数据", "fontSize": 54},
          "encoding": {"x": {"datum": 54.56}, "y": {"datum": 83.0}}
        },
        {
          "data": {"values": [{}]},
          "mark": {"type": "text", "text": "线性拟合", "fontSize": 54},
          "encoding": {"x": {"datum": 54.56}, "y": {"datum": 72.8}}
        },
        {
          "data": {"values": [{}]},
          "mark": {"type": "text", "text": "y", "fontStyle": "italic"},
          "encoding": {"x": {"datum": 36.67}, "y": {"datum": 92.1}}
        },
        {
          "data": {"values": [{}]},
          "mark": {"type": "text", "text": "=\u00a0−0.001\u00a05"},
          "encoding": {"x": {"datum": 38.95}, "y": {"datum": 92.1}}
        },
        {
          "data": {"values": [{}]},
          "mark": {"type": "text", "text": "x", "fontStyle": "italic"},
          "encoding": {"x": {"datum": 53.39}, "y": {"datum": 92.1}}
        },
        {
          "data": {"values": [{}]},
          "mark": {"type": "text", "text": "+\u00a00.264\u00a04"},
          "encoding": {"x": {"datum": 55.68}, "y": {"datum": 92.1}}
        }
      ]
    }
  ]
}
